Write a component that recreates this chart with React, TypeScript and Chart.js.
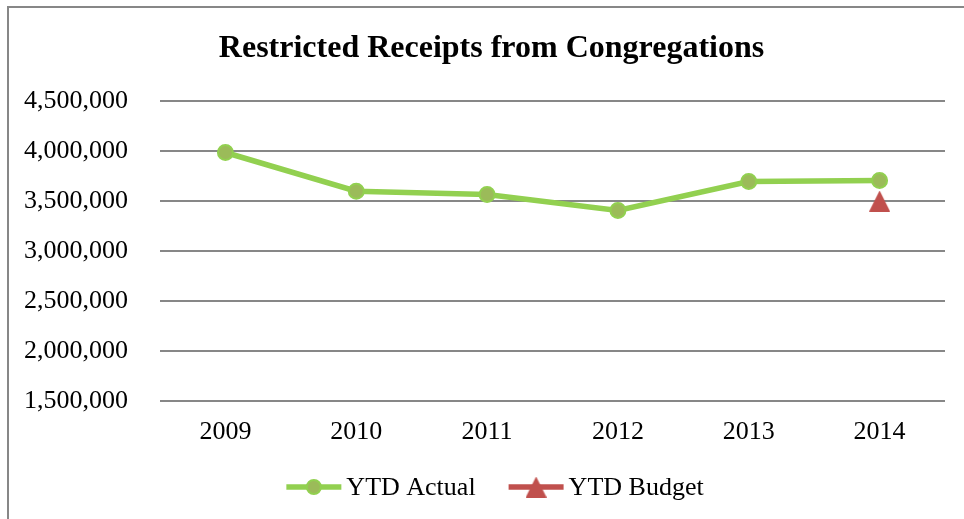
import React, { useEffect, useRef } from "react";
import { Chart, registerables } from "chart.js";

Chart.register(...registerables);

const categories = ["2009", "2010", "2011", "2012", "2013", "2014"];
const ytdActual = [3985000, 3598000, 3565000, 3405000, 3695000, 3705000];
const ytdBudget: (number | null)[] = [null, null, null, null, null, 3500000];
const yTicks = [1500000, 2000000, 2500000, 3000000, 3500000, 4000000, 4500000];
const seriesNames = ["YTD Actual", "YTD Budget"];
const chartTitle = "Restricted Receipts from Congregations";

const FONT = "'Liberation Serif', 'Times New Roman', serif";
const GREEN_LINE = "#92D050";
const GREEN_POINT = "#9BBB59";
const RED = "#C0504D";

function makeTriangle(size: number, color: string) {
  const c = document.createElement("canvas");
  c.width = size;
  c.height = size;
  const ctx = c.getContext("2d")!;
  ctx.fillStyle = color;
  ctx.beginPath();
  ctx.moveTo(size / 2, 0);
  ctx.lineTo(size, size);
  ctx.lineTo(0, size);
  ctx.closePath();
  ctx.fill();
  return c;
}

export default function App() {
  const ref = useRef<HTMLCanvasElement>(null);

  useEffect(() => {
    document.body.style.overflow = "hidden";
    document.documentElement.style.overflow = "hidden";
    const canvas = ref.current!;
    const tri = makeTriangle(21, RED);
    const boxCenterX = 491.5;

    const titleLegendPlugin = {
      id: "titleLegend",
      afterDraw(chart: any) {
        const ctx = chart.ctx as CanvasRenderingContext2D;
        const area = chart.chartArea;
        ctx.save();
        // title
        ctx.font = `bold 32px ${FONT}`;
        ctx.fillStyle = "#000";
        ctx.textAlign = "center";
        ctx.textBaseline = "middle";
        ctx.fillText(chartTitle, boxCenterX, area.top - 52);

        // legend
        const y = area.bottom + 86;
        ctx.font = `26px ${FONT}`;
        ctx.textBaseline = "middle";
        ctx.textAlign = "left";
        const lineLen = 55;
        const gapText = 5;
        const gapItems = 33;
        const widths = chart.data.datasets.map(
          (ds: any) => lineLen + gapText + ctx.measureText(ds.label).width
        );
        const total = widths.reduce((a: number, b: number) => a + b, 0) + gapItems * (widths.length - 1);
        let x = boxCenterX + 3.5 - total / 2;
        chart.data.datasets.forEach((ds: any, i: number) => {
          ctx.strokeStyle = ds.legendLine;
          ctx.lineWidth = 5.5;
          ctx.lineCap = "butt";
          ctx.beginPath();
          ctx.moveTo(x, y);
          ctx.lineTo(x + lineLen, y);
          ctx.stroke();
          const cx = x + lineLen / 2;
          if (i === 0) {
            ctx.fillStyle = GREEN_POINT;
            ctx.strokeStyle = GREEN_LINE;
            ctx.lineWidth = 2;
            ctx.beginPath();
            ctx.arc(cx, y, 7, 0, Math.PI * 2);
            ctx.fill();
            ctx.stroke();
          } else {
            ctx.drawImage(tri, cx - 10.5, y - 10.5);
          }
          ctx.fillStyle = "#000";
          ctx.fillText(ds.label, x + lineLen + gapText, y + 1);
          x += widths[i] + gapItems;
        });
        ctx.restore();
      },
    };

    const chart = new Chart(canvas, {
      type: "line",
      data: {
        labels: categories,
        datasets: [
          {
            label: seriesNames[0],
            data: ytdActual,
            borderColor: GREEN_LINE,
            borderWidth: 5.5,
            backgroundColor: GREEN_POINT,
            pointBackgroundColor: GREEN_POINT,
            pointBorderColor: GREEN_LINE,
            pointBorderWidth: 2,
            pointRadius: 7.5,
            tension: 0,
            legendLine: GREEN_LINE,
          } as any,
          {
            label: seriesNames[1],
            data: ytdBudget,
            borderColor: RED,
            backgroundColor: RED,
            showLine: false,
            pointStyle: tri,
            pointRadius: 10,
            legendLine: RED,
          } as any,
        ],
      },
      options: {
        responsive: false,
        animation: false,
        devicePixelRatio: 1,
        layout: { padding: { left: 0, right: 19, top: 101, bottom: 71 } },
        plugins: {
          legend: { display: false },
          tooltip: { enabled: false },
          title: { display: false },
        },
        scales: {
          x: {
            type: "category",
            offset: true,
            grid: { display: false, drawTicks: false },
            border: { display: false },
            ticks: {
              color: "#000",
              padding: 16,
              maxRotation: 0,
              font: { family: FONT, size: 26, lineHeight: 1.2 },
            },
            afterFit(scale: any) {
              scale.height = 47;
            },
          },
          y: {
            min: yTicks[0],
            max: yTicks[yTicks.length - 1],
            afterBuildTicks(scale: any) {
              scale.ticks = yTicks.map((v) => ({ value: v }));
            },
            grid: { color: "#878787", lineWidth: 2, drawTicks: false },
            border: { display: false },
            ticks: {
              color: "#000",
              padding: 32,
              font: { family: FONT, size: 26, lineHeight: 1.2 },
              callback: (v: any) => Number(v).toLocaleString("en-US"),
            },
            afterFit(scale: any) {
              scale.width = 160;
            },
          },
        },
      },
      plugins: [titleLegendPlugin],
    });
    return () => chart.destroy();
  }, []);

  return (
    <div
      style={{
        position: "fixed",
        left: 0,
        top: 0,
        width: 964,
        height: 519,
        overflow: "hidden",
        background: "#fff",
      }}
    >
      <div
        style={{
          position: "absolute",
          left: 7,
          top: 6,
          width: 1100,
          height: 700,
          border: "2px solid #878787",
          boxSizing: "border-box",
        }}
      />
      <canvas
        ref={ref}
        width={964}
        height={519}
        style={{ position: "absolute", left: 0, top: 0, width: 964, height: 519 }}
      />
    </div>
  );
}
